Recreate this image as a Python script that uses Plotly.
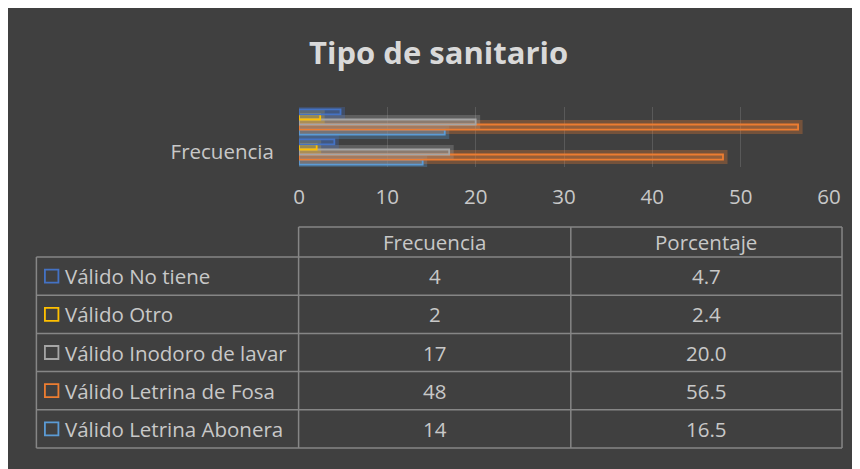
import plotly.graph_objects as go

# ---- data ----
series_names = ["Válido No tiene", "Válido Otro", "Válido Inodoro de lavar",
                "Válido Letrina de Fosa", "Válido Letrina Abonera"]
frecuencia = [4, 2, 17, 48, 14]
porcentaje = [4.7, 2.4, 20.0, 56.5, 16.5]
measures = ["Frecuencia", "Porcentaje"]
series_colors = ["#4472C4", "#FFC000", "#A5A5A5", "#ED7D31", "#5B9BD5"]
x_ticks = [0, 10, 20, 30, 40, 50, 60]
title_text = "Tipo de sanitario"

# page offset (body margin) and figure size
OFF = 8
W, H = 860 - OFF, 469 - OFF
# plot area in page pixels
PL, PR, PT, PB = 299.4, 829, 107, 167
L, R, T, B = PL - OFF, PR - OFF, PT - OFF, PB - OFF
BG = "#404040"
TXT = "#c8c8c8"
GRID = "#595959"
TBL = "#868686"
FONT = "Open Sans"
FS = 20.5


def xp(px):  # page pixel -> paper
    return (px - PL) / (PR - PL)


def yp(py):
    return (PB - py) / (PB - PT)


def rgba(hexc, a):
    h = hexc.lstrip("#")
    r, g, b = int(h[0:2], 16), int(h[2:4], 16), int(h[4:6], 16)
    return f"rgba({r},{g},{b},{a})"


fig = go.Figure()
order = list(range(len(series_names)))[::-1]  # bottom-most first

# glow layer
for i in order:
    fig.add_trace(go.Bar(
        y=measures, x=[frecuencia[i], porcentaje[i]], orientation="h",
        offsetgroup=str(i), showlegend=False, hoverinfo="skip",
        marker=dict(color=rgba(series_colors[i], 0.12),
                    line=dict(color=rgba(series_colors[i], 0.3), width=9)),
    ))
# main bars
for i in order:
    fig.add_trace(go.Bar(
        y=measures, x=[frecuencia[i], porcentaje[i]], orientation="h",
        offsetgroup=str(i), name=series_names[i], showlegend=False,
        marker=dict(color=rgba(series_colors[i], 0.18),
                    line=dict(color=series_colors[i], width=1.8)),
    ))

shapes = []
annotations = []

# ---- data table ----
col_x = [37, 299, 571, 842]
head_top, head_bot = 227, 257
row_h = (448 - 257) / len(series_names)
row_edges = [head_bot + k * row_h for k in range(len(series_names) + 1)]


def hline(x0, x1, y):
    shapes.append(dict(type="line", xref="paper", yref="paper",
                       x0=xp(x0), x1=xp(x1), y0=yp(y), y1=yp(y),
                       line=dict(color=TBL, width=1.5)))


def vline(x, y0, y1):
    shapes.append(dict(type="line", xref="paper", yref="paper",
                       x0=xp(x), x1=xp(x), y0=yp(y0), y1=yp(y1),
                       line=dict(color=TBL, width=1.5)))


hline(col_x[1], col_x[3], head_top)
for ye in row_edges:
    hline(col_x[0], col_x[3], ye)
vline(col_x[0], head_bot, row_edges[-1])
for cx in col_x[1:]:
    vline(cx, head_top, row_edges[-1])

# header texts
for j, m in enumerate(measures):
    annotations.append(dict(xref="paper", yref="paper",
                            x=xp((col_x[j + 1] + col_x[j + 2]) / 2),
                            y=yp((head_top + head_bot) / 2),
                            text=m, showarrow=False, xanchor="center", yanchor="middle",
                            font=dict(family=FONT, size=FS, color=TXT)))

for k, name in enumerate(series_names):
    cy = (row_edges[k] + row_edges[k + 1]) / 2
    # legend key
    shapes.append(dict(type="rect", xref="paper", yref="paper",
                       x0=xp(45.5), x1=xp(59), y0=yp(cy - 6.5), y1=yp(cy + 6.5),
                       line=dict(color=series_colors[k], width=1.8),
                       fillcolor="rgba(0,0,0,0)"))
    annotations.append(dict(xref="paper", yref="paper", x=xp(64), y=yp(cy),
                            text=name, showarrow=False, xanchor="left", yanchor="middle",
                            font=dict(family=FONT, size=FS, color=TXT)))
    annotations.append(dict(xref="paper", yref="paper",
                            x=xp((col_x[1] + col_x[2]) / 2), y=yp(cy),
                            text=f"{frecuencia[k]}", showarrow=False,
                            xanchor="center", yanchor="middle",
                            font=dict(family=FONT, size=FS, color=TXT)))
    annotations.append(dict(xref="paper", yref="paper",
                            x=xp((col_x[2] + col_x[3]) / 2), y=yp(cy),
                            text=f"{porcentaje[k]:.1f}", showarrow=False,
                            xanchor="center", yanchor="middle",
                            font=dict(family=FONT, size=FS, color=TXT)))

# title
annotations.append(dict(xref="paper", yref="paper", x=xp(439), y=yp(52),
                        text=f"<b>{title_text}</b>", showarrow=False,
                        xanchor="center", yanchor="middle",
                        font=dict(family=FONT, size=31, color="#d9d9d9")))

fig.update_layout(
    width=W, height=H,
    margin=dict(l=L, r=W - R, t=T, b=H - B, autoexpand=False),
    paper_bgcolor=BG, plot_bgcolor=BG,
    barmode="group", bargap=0.16, bargroupgap=0,
    showlegend=False,
    shapes=shapes, annotations=annotations,
    xaxis=dict(range=[0, 60], tickvals=x_ticks, showgrid=True, gridcolor=GRID,
               gridwidth=1.2, zeroline=False, showline=False,
               ticks="outside", ticklen=11, tickcolor="rgba(0,0,0,0)",
               tickfont=dict(family=FONT, size=FS, color=TXT), fixedrange=True),
    yaxis=dict(type="category", categoryorder="array", categoryarray=measures,
               tickmode="array", tickvals=["Frecuencia"], ticktext=["Frecuencia"],
               showgrid=False, zeroline=False, showline=False,
               ticks="outside", ticklen=20, tickcolor="rgba(0,0,0,0)",
               tickfont=dict(family=FONT, size=FS, color=TXT), fixedrange=True),
)

fig.write_html("out.html")
